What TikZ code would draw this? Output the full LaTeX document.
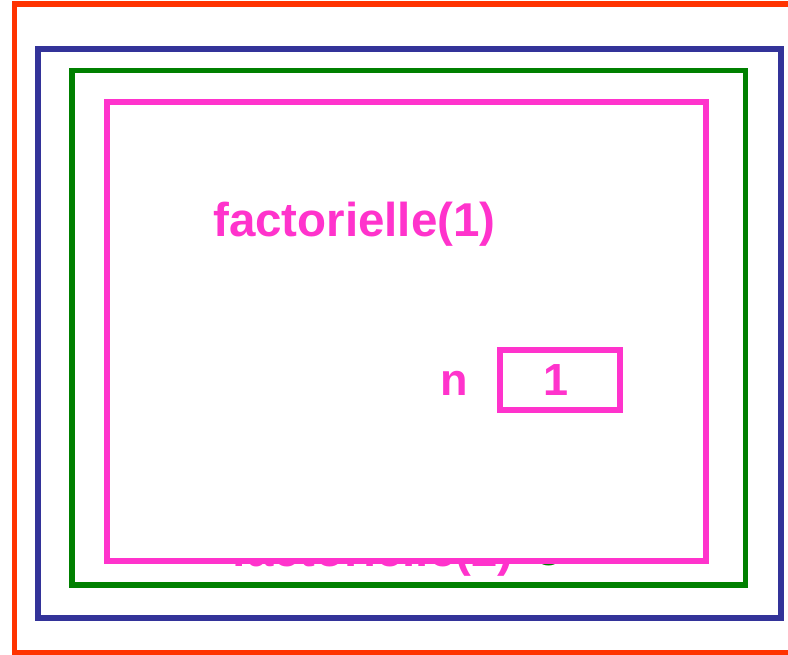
\documentclass[tikz,border=0pt]{standalone}
\usepackage{fontspec}
\setmainfont{Liberation Sans}
\definecolor{cred}{RGB}{255,51,0}
\definecolor{cblue}{RGB}{51,51,153}
\definecolor{cgreen}{RGB}{0,128,0}
\definecolor{cpink}{RGB}{255,51,204}
\tikzset{
  big/.style={font=\fontsize{47.5}{57}\selectfont\bfseries, inner sep=0pt},
  mid/.style={font=\fontsize{45}{54}\selectfont\bfseries, inner sep=0pt},
}
\begin{document}
\begin{tikzpicture}[x=1pt,y=-1pt]
\useasboundingbox[fill=white] (0,0) rectangle (788,654);
\begin{scope}
\clip (0,0) rectangle (788,654);
\draw[cred, line width=5.5pt] (14.5,4) rectangle (810,652.5);
\end{scope}
\draw[cblue, line width=6pt] (37.5,49) rectangle (781,618);
\draw[cgreen, line width=5.5pt] (72,70.5) rectangle (745.5,585);
% text of the outer call, mostly hidden
\node[big, text=cpink, anchor=base west] (f2) at (231,566) {factorielle(2)};
\node[big, text=cgreen, anchor=base west] (res) at (534,565) {o};
\draw[cpink, line width=6pt, fill=white] (107,102) rectangle (706,561);
\node[big, text=cpink, anchor=base west] (f1) at (213,236) {factorielle(1)};
\node[mid, text=cpink, anchor=base] (n) at (454,395) {n};
\node[draw=cpink, line width=5.5pt, minimum width=120pt, minimum height=60pt, inner sep=0pt] (val) at (560,380) {};
\node[mid, text=cpink] (one) at (556,380) {1};
\end{tikzpicture}
\end{document}
